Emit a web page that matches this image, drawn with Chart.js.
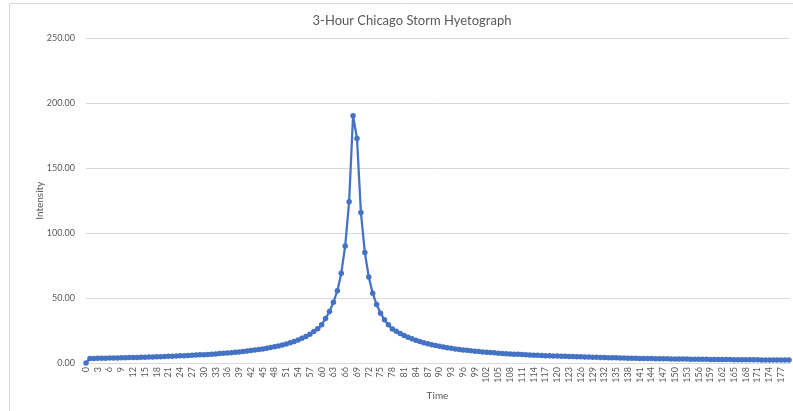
<!DOCTYPE html>
<html><head><meta charset="utf-8">
<script src="https://cdn.jsdelivr.net/npm/chart.js@4"></script>
<style>html,body{margin:0;padding:0;background:#fff;overflow:hidden}</style>
</head><body>
<canvas id="c" width="793" height="411"></canvas>
<script>
const chartTitle = "3-Hour Chicago Storm Hyetograph";
const xAxisTitle = "Time";
const yAxisTitle = "Intensity";
const timeMinutes = Array.from({length: 180}, (_, i) => String(i));
const xLabelStep = 3;
const yTicks = [0, 50, 100, 150, 200, 250];

// intensity, minutes 0..67 (rising limb)
const intensityRising = [
  0, 3.50, 3.56, 3.62, 3.68, 3.74, 3.80, 3.87, 3.94, 4.01,
  4.09, 4.17, 4.25, 4.33, 4.42, 4.50, 4.60, 4.70, 4.80, 4.90,
  5.01, 5.13, 5.25, 5.37, 5.50, 5.64, 5.79, 5.94, 6.09, 6.26,
  6.43, 6.62, 6.81, 7.02, 7.23, 7.46, 7.71, 7.97, 8.24, 8.54,
  8.85, 9.20, 9.56, 9.96, 10.38, 10.83, 11.33, 11.88, 12.47, 13.13,
  13.85, 14.66, 15.55, 16.57, 17.70, 18.99, 20.47, 22.19, 24.20, 26.30,
  29.50, 34.30, 39.70, 46.80, 55.60, 69.20, 90.20, 124.30
];
// intensity, minutes 68..179 (falling limb)
const intensityFalling = [
  190.5, 173.0, 115.9, 85.1, 66.2, 53.8, 45.0, 38.4, 33.3, 29.5,
  26.2, 24.4, 22.7, 21.1, 19.8, 18.6, 17.5, 16.5, 15.6, 14.8,
  14.1, 13.44, 12.83, 12.29, 11.78, 11.31, 10.87, 10.47, 10.09, 9.74,
  9.41, 9.10, 8.81, 8.55, 8.30, 8.05, 7.82, 7.59, 7.39, 7.20,
  7.01, 6.83, 6.66, 6.50, 6.35, 6.20, 6.06, 5.92, 5.80, 5.67,
  5.55, 5.44, 5.33, 5.23, 5.13, 5.03, 4.94, 4.84, 4.75, 4.66,
  4.56, 4.47, 4.38, 4.29, 4.21, 4.12, 4.04, 3.96, 3.89, 3.82,
  3.75, 3.68, 3.62, 3.56, 3.50, 3.45, 3.40, 3.35, 3.30, 3.25,
  3.21, 3.16, 3.12, 3.08, 3.04, 3.00, 2.96, 2.92, 2.89, 2.85,
  2.82, 2.78, 2.75, 2.72, 2.69, 2.65, 2.62, 2.59, 2.56, 2.53,
  2.50, 2.48, 2.45, 2.42, 2.40, 2.37, 2.35, 2.32, 2.30, 2.27,
  2.25, 2.22
];
const intensity = intensityRising.concat(intensityFalling);

const TEXT = '#595959';
const GRID = '#d9d9d9';
const FONT = 'Lato';

const framePlugin = {
  id: 'frame',
  beforeDraw(chart) {
    const ctx = chart.ctx;
    ctx.save();
    ctx.fillStyle = '#fff';
    ctx.fillRect(0, 0, chart.width, chart.height);
    ctx.strokeStyle = GRID;
    ctx.lineWidth = 1;
    ctx.beginPath();
    ctx.moveTo(9.5, chart.height);
    ctx.lineTo(9.5, 3.5);
    ctx.lineTo(chart.width, 3.5);
    ctx.stroke();
    ctx.restore();
  },
  afterDraw(chart) {
    const ctx = chart.ctx;
    ctx.save();
    ctx.fillStyle = TEXT;
    ctx.font = '13px ' + FONT;
    ctx.textAlign = 'center';
    ctx.textBaseline = 'middle';
    ctx.fillText(chartTitle, 412, 21);
    ctx.restore();
  }
};

new Chart(document.getElementById('c'), {
  type: 'line',
  data: {
    labels: timeMinutes,
    datasets: [{
      data: intensity,
      borderColor: '#4472C4',
      backgroundColor: '#4472C4',
      borderWidth: 2.25,
      borderJoinStyle: 'round',
      pointRadius: 2.75,
      pointBorderWidth: 0,
      pointBackgroundColor: '#4472C4',
      tension: 0,
      clip: false
    }]
  },
  options: {
    responsive: false,
    animation: false,
    devicePixelRatio: 1,
    layout: {padding: {top: 38.5, right: 4, bottom: 0, left: 0}},
    plugins: {legend: {display: false}, title: {display: false}, tooltip: {enabled: false}},
    scales: {
      x: {
        type: 'category',
        offset: false,
        grid: {display: false, drawTicks: false},
        border: {display: true, color: GRID, width: 1},
        ticks: {
          autoSkip: false, maxRotation: 90, minRotation: 90, padding: 4,
          color: TEXT, font: {family: FONT, size: 9},
          callback: (v, i) => (i % xLabelStep === 0 ? timeMinutes[i] : '')
        },
        title: {display: true, text: xAxisTitle, color: TEXT, font: {family: FONT, size: 10}, padding: {top: 0, bottom: 9}},
        afterFit: s => { s.height = 48; s.paddingLeft = 0; s.paddingRight = 0; }
      },
      y: {
        min: yTicks[0], max: yTicks[yTicks.length - 1],
        afterBuildTicks: s => { s.ticks = yTicks.map(v => ({value: v})); },
        grid: {color: GRID, drawTicks: false, lineWidth: 1},
        border: {display: false},
        ticks: {padding: 11, color: TEXT, font: {family: FONT, size: 9}, callback: v => Number(v).toFixed(2)},
        title: {display: true, text: yAxisTitle, color: TEXT, font: {family: FONT, size: 10}, padding: {top: 34, bottom: 0}},
        afterFit: s => { s.width = 86; s.paddingTop = 0; s.paddingBottom = 0; }
      }
    }
  },
  plugins: [framePlugin]
});
</script>
</body></html>
